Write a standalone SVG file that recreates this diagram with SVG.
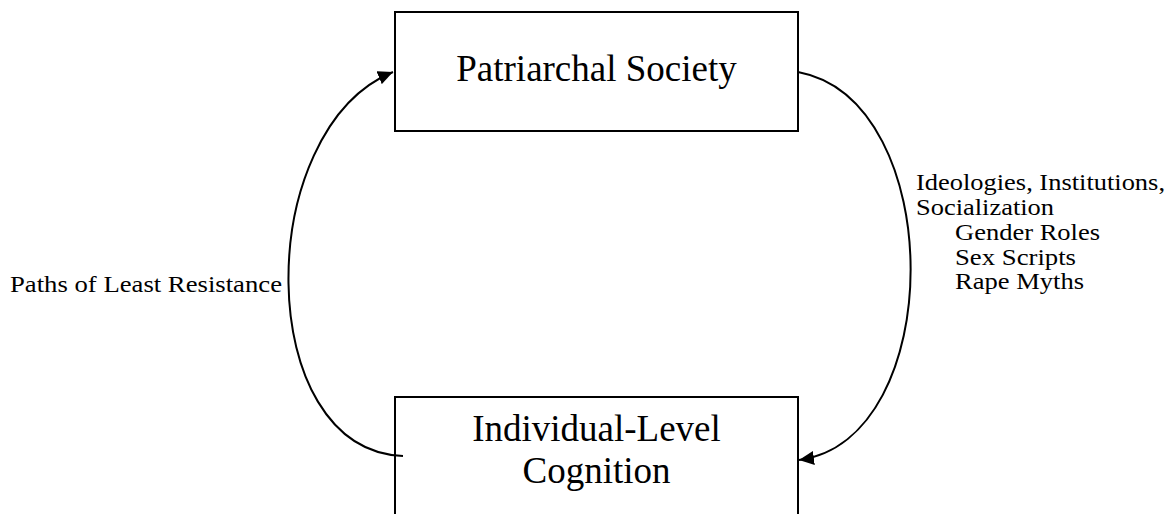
<svg xmlns="http://www.w3.org/2000/svg" width="1172" height="514" viewBox="0 0 1172 514">
  <style>
    .box { fill: #ffffff; stroke: #000000; stroke-width: 2; }
    .title { font-family: "Liberation Serif", "Times New Roman", serif; font-size: 37px; fill: #000000; text-anchor: middle; }
    .label { font-family: "Liberation Serif", "Times New Roman", serif; font-size: 23px; fill: #000000; }
    .link { fill: none; stroke: #000000; stroke-width: 2; }
  </style>
  <defs>
    <marker id="arrow" markerUnits="userSpaceOnUse" markerWidth="16" markerHeight="14" refX="15" refY="7" orient="auto">
      <path d="M0,0 L15,7 L0,14 z" fill="#000000"/>
    </marker>
  </defs>
  <rect width="1172" height="514" fill="#ffffff"/>

  <g id="patriarchal-society">
    <rect class="box" x="395" y="12" width="403" height="119"/>
    <text class="title" x="596.5" y="81">Patriarchal Society</text>
  </g>

  <g id="individual-cognition">
    <rect class="box" x="395" y="397" width="403" height="140"/>
    <text class="title" x="596.5" y="441">Individual-Level</text>
    <text class="title" x="596.5" y="483">Cognition</text>
  </g>

  <g id="connectors">
    <!-- feedback loop: individual cognition back up to society -->
    <path class="link" d="M403,456 C252,450 252,130 393,72" marker-end="url(#arrow)"/>
    <!-- society down to individual cognition -->
    <path class="link" d="M798,72 C948,100 948,440 799,460" marker-end="url(#arrow)"/>
  </g>

  <g id="label-paths">
    <text class="label" x="10" y="292" textLength="272" lengthAdjust="spacingAndGlyphs">Paths of Least Resistance</text>
  </g>

  <g id="label-socialization">
    <text class="label" x="916" y="190" textLength="249" lengthAdjust="spacingAndGlyphs">Ideologies, Institutions,</text>
    <text class="label" x="916" y="215" textLength="138" lengthAdjust="spacingAndGlyphs">Socialization</text>
    <text class="label" x="955" y="240" textLength="145" lengthAdjust="spacingAndGlyphs">Gender Roles</text>
    <text class="label" x="955" y="264.5" textLength="121" lengthAdjust="spacingAndGlyphs">Sex Scripts</text>
    <text class="label" x="955" y="289" textLength="129" lengthAdjust="spacingAndGlyphs">Rape Myths</text>
  </g>
</svg>
